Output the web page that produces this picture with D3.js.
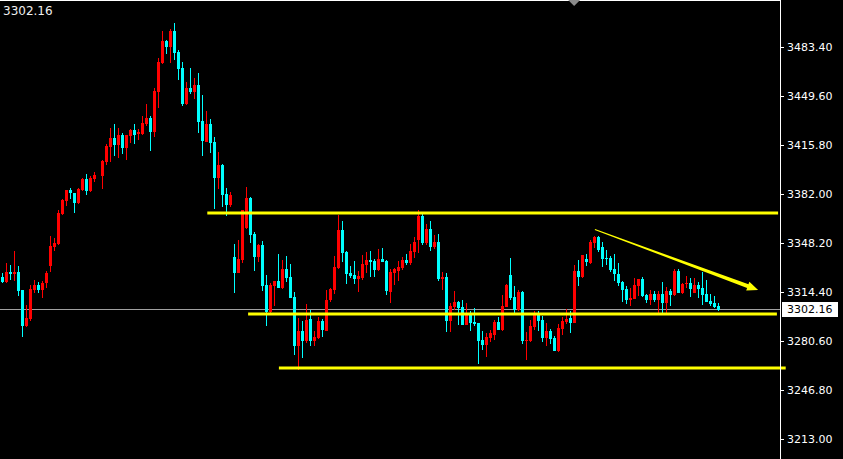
<!DOCTYPE html>
<html><head><meta charset="utf-8">
<script src="https://cdn.jsdelivr.net/npm/d3@7"></script>
<style>
html,body{margin:0;padding:0;background:#000;overflow:hidden;}
svg{display:block;}
</style></head>
<body>
<svg id="chart" width="843" height="459"></svg>
<script>
// ---- data (bar index 0..179, bar 24 missing) ----
const opens = [3324.9,3321.3,3328.2,3326.8,3328.2,3315.8,3291.1,3295.7,3315.8,3319.2,
3315.8,3320.4,3332.5,3345.4,3347.5,3368.0,3377.4,3384.8,3382.7,3376.0,
3384.8,3392.3,3384.3,3392.3,null,3394.6,3404.3,3414.6,3420.8,3415.8,
3422.7,3413.9,3422.2,3426.2,3423.2,3423.4,3430.3,3434.4,3424.8,3452.6,
3472.2,3487.6,3483.4,3494.5,3480.0,3468.9,3443.9,3455.1,3452.4,3457.4,
3432.4,3418.1,3430.3,3417.9,3393.0,3402.2,3382.0,3374.4,3338.7,3327.3,
3336.5,3358.3,3379.0,3354.4,3338.7,3346.8,3319.2,3300.8,3318.5,3322.0,
3317.3,3330.2,3324.7,3310.9,3277.3,3287.5,3280.6,3295.7,3280.6,3282.8,
3294.4,3287.5,3308.9,3315.8,3330.7,3357.2,3342.0,3327.5,3326.1,3323.3,
3324.0,3333.0,3336.5,3336.0,3329.6,3337.1,3336.0,3314.6,3327.3,3328.9,
3331.1,3336.5,3334.4,3342.2,3350.3,3366.8,3348.4,3357.8,3345.6,3349.1,
3323.3,3324.9,3294.4,3304.2,3307.5,3304.2,3291.6,3300.1,3293.9,3293.0,
3281.3,3278.0,3282.6,3284.7,3293.7,3288.2,3304.2,3326.1,3310.9,3302.0,
3314.4,3280.4,3280.6,3290.4,3298.5,3295.1,3282.8,3287.5,3282.6,3273.9,
3288.8,3293.7,3296.4,3293.0,3328.9,3324.7,3337.1,3334.4,3348.2,3352.3,
3345.2,3337.6,3337.6,3330.2,3326.6,3321.3,3316.4,3308.9,3309.5,3318.5,
3323.1,3312.3,3308.6,3313.0,3308.9,3313.0,3307.0,3315.1,3312.3,3328.9,
3313.9,3319.9,3320.8,3313.5,3319.2,3317.1,3313.0,3308.2,3306.8,3304.7];
const highs = [3327.3,3334.2,3332.8,3342.7,3332.3,3315.8,3305.2,3319.0,3322.7,3321.3,
3322.2,3328.9,3353.0,3351.6,3371.0,3378.8,3384.8,3385.9,3382.7,3386.1,
3393.0,3395.8,3394.4,3397.0,null,3405.5,3416.5,3427.5,3430.1,3427.5,
3423.9,3422.7,3427.1,3430.3,3426.8,3435.6,3444.1,3435.8,3455.1,3476.0,
3494.7,3488.5,3495.8,3500.0,3481.4,3473.1,3459.3,3468.9,3462.0,3465.5,
3450.3,3439.3,3433.7,3421.3,3411.0,3402.9,3386.1,3383.4,3347.5,3350.3,
3371.0,3386.6,3380.1,3356.0,3347.5,3349.6,3326.1,3320.4,3322.0,3340.6,
3336.5,3339.2,3333.7,3314.4,3296.4,3294.4,3306.1,3302.0,3287.5,3297.1,
3295.7,3315.8,3317.1,3339.2,3367.5,3363.4,3342.7,3332.3,3335.8,3328.9,
3339.9,3342.2,3342.7,3337.1,3343.8,3344.7,3336.5,3330.0,3331.1,3336.0,
3338.7,3340.4,3347.5,3352.5,3371.0,3368.7,3361.3,3363.4,3353.7,3354.4,
3328.4,3327.3,3306.6,3315.1,3308.2,3308.9,3306.6,3301.3,3303.3,3293.0,
3287.5,3285.9,3288.2,3295.1,3297.1,3312.3,3319.7,3337.8,3318.5,3315.8,
3315.1,3287.0,3295.1,3301.3,3301.3,3297.8,3293.0,3288.8,3284.0,3292.3,
3297.1,3302.6,3301.3,3333.0,3336.5,3339.9,3340.6,3350.3,3353.0,3353.0,
3348.7,3343.4,3339.2,3340.6,3334.2,3322.2,3318.5,3316.9,3323.8,3323.1,
3324.9,3313.0,3315.8,3315.1,3315.1,3321.3,3318.0,3316.2,3330.2,3330.2,
3320.8,3325.4,3324.2,3324.2,3321.1,3328.4,3322.7,3313.0,3311.6,3306.6];
const lows = [3320.8,3320.8,3322.7,3322.2,3311.6,3283.5,3290.4,3294.4,3313.9,3313.9,
3310.4,3317.3,3328.4,3342.9,3346.8,3367.3,3373.9,3378.3,3369.1,3375.3,
3384.3,3381.5,3383.6,3390.5,null,3385.4,3402.0,3404.3,3408.2,3407.0,
3409.6,3405.7,3417.4,3416.7,3419.3,3422.7,3429.1,3411.9,3421.5,3441.3,
3471.5,3478.6,3472.6,3474.5,3460.9,3442.7,3443.4,3451.0,3447.8,3424.1,
3408.4,3417.7,3410.5,3371.6,3385.7,3373.0,3366.8,3373.0,3313.9,3327.3,
3334.2,3357.6,3348.4,3329.1,3335.3,3315.3,3291.1,3300.1,3304.7,3317.3,
3316.7,3321.3,3310.4,3270.9,3260.6,3269.0,3279.4,3277.3,3277.3,3281.9,
3283.3,3287.5,3307.5,3313.0,3330.0,3335.1,3319.9,3324.0,3319.9,3314.4,
3322.7,3327.3,3324.9,3324.9,3328.9,3335.1,3312.3,3306.6,3319.2,3322.2,
3329.6,3333.0,3333.0,3338.0,3341.1,3346.8,3346.8,3342.9,3344.0,3322.2,
3315.8,3287.0,3287.0,3302.0,3291.6,3291.6,3291.6,3287.7,3290.9,3264.9,
3274.6,3269.7,3279.9,3281.3,3288.2,3287.5,3304.2,3308.9,3298.5,3301.3,
3278.7,3267.5,3279.9,3288.2,3287.5,3280.1,3277.3,3278.7,3273.9,3273.2,
3284.7,3292.3,3286.3,3293.0,3318.7,3324.0,3332.3,3333.7,3344.7,3342.0,
3331.4,3333.0,3328.0,3322.2,3318.7,3307.7,3306.1,3304.7,3309.5,3311.6,
3310.7,3307.0,3305.4,3307.7,3300.1,3300.1,3300.1,3304.7,3311.6,3313.9,
3313.0,3316.9,3310.7,3313.5,3310.0,3305.4,3307.7,3304.7,3303.1,3301.5];
const closes = [3321.3,3328.2,3327.0,3328.2,3315.3,3291.1,3296.4,3316.4,3319.2,3315.8,
3320.6,3327.5,3346.1,3348.2,3369.1,3377.9,3384.8,3382.5,3376.0,3385.2,
3392.3,3384.3,3393.0,3395.1,null,3404.8,3415.3,3420.8,3415.8,3422.7,
3413.9,3422.7,3426.2,3422.7,3424.6,3431.0,3434.4,3424.8,3453.1,3473.1,
3487.6,3483.4,3494.5,3479.5,3468.2,3443.9,3455.1,3452.4,3457.4,3431.7,
3418.6,3430.3,3417.2,3393.0,3402.2,3381.3,3374.4,3381.3,3327.7,3337.1,
3371.0,3379.0,3353.7,3338.7,3346.8,3318.5,3300.8,3319.2,3322.0,3317.3,
3330.2,3324.2,3310.4,3277.3,3287.5,3280.6,3295.1,3280.6,3283.3,3294.4,
3288.2,3308.9,3316.4,3331.6,3357.2,3341.3,3326.8,3325.4,3323.3,3325.4,
3333.7,3336.7,3334.9,3329.6,3337.1,3335.1,3315.1,3328.0,3330.0,3331.6,
3336.5,3334.4,3342.7,3349.1,3366.8,3348.4,3357.8,3345.4,3349.1,3323.3,
3324.9,3294.4,3304.9,3307.5,3303.1,3291.6,3300.1,3293.2,3292.3,3280.8,
3278.0,3283.3,3286.1,3293.7,3288.2,3304.7,3319.2,3310.4,3302.0,3314.4,
3280.8,3281.3,3290.9,3298.5,3294.4,3282.8,3287.5,3281.9,3273.9,3289.5,
3294.4,3295.7,3293.0,3328.9,3324.7,3339.9,3335.1,3348.9,3352.3,3343.4,
3337.1,3337.1,3329.6,3326.6,3320.4,3315.8,3308.9,3310.0,3319.2,3323.1,
3311.6,3308.6,3313.0,3308.9,3313.0,3307.0,3315.1,3312.3,3328.9,3313.9,
3319.9,3320.4,3316.7,3319.2,3316.7,3312.3,3307.7,3306.1,3304.2,3302.16];

const yTicks = [3213.00, 3246.80, 3280.60, 3314.40, 3348.20, 3382.00, 3415.80, 3449.60, 3483.40];
const lastPrice = 3302.16;
const levelPrices = [3368.9, 3299.2, 3262.0];
const levelFrom = [51.2, 61.4, 69.1];
const levelTo = [193.9, 193.6, 195.8];
const trendStart = [148.1, 3357.5];
const trendEnd = [188.9, 3315.8];
const shiftMarkerIndex = 142.9;

// ---- layout ----
const W = 843, H = 459, plotRight = 780;
const svg = d3.select('#chart');
svg.append('rect').attr('width', W).attr('height', H).attr('fill', '#000');

const x = d3.scaleLinear().domain([0, 194.375]).range([2.5, plotRight]);
const y = d3.scaleLinear().domain([3213, 3483.4]).range([439, 47]);

const bars = d3.range(opens.length)
  .filter(i => opens[i] !== null)
  .map(i => ({i, o: opens[i], h: highs[i], l: lows[i], c: closes[i]}));

const plot = svg.append('g').attr('shape-rendering', 'crispEdges');

// last price line
plot.append('line')
  .attr('x1', 0).attr('x2', plotRight)
  .attr('y1', Math.floor(y(lastPrice)) + 0.5).attr('y2', Math.floor(y(lastPrice)) + 0.5)
  .attr('stroke', '#a0a0a0').attr('stroke-width', 1);

const col = d => d.c > d.o ? '#ff0000' : '#00ffff';

// wicks
plot.selectAll('rect.wick').data(bars).join('rect')
  .attr('class', 'wick')
  .attr('x', d => x(d.i) - 0.5)
  .attr('width', 1)
  .attr('y', d => Math.round(y(d.h)))
  .attr('height', d => Math.max(1, Math.round(y(d.l)) - Math.round(y(d.h))))
  .attr('fill', col);

// bodies
plot.selectAll('rect.body').data(bars).join('rect')
  .attr('class', 'body')
  .attr('x', d => x(d.i) - 1.5)
  .attr('width', 3)
  .attr('y', d => Math.round(y(Math.max(d.o, d.c))))
  .attr('height', d => Math.max(1, Math.round(y(Math.min(d.o, d.c))) - Math.round(y(Math.max(d.o, d.c)))))
  .attr('fill', col);

// horizontal levels
const lv = svg.append('g');
levelPrices.forEach((p, k) => {
  lv.append('line')
    .attr('x1', x(levelFrom[k])).attr('x2', x(levelTo[k]))
    .attr('y1', Math.round(y(p))).attr('y2', Math.round(y(p)))
    .attr('stroke', '#ffff00').attr('stroke-width', 3);
});

// trend arrow (tapered)
(function () {
  const x0 = x(trendStart[0]), y0 = y(trendStart[1]);
  const x1 = x(trendEnd[0]), y1 = y(trendEnd[1]);
  const dx = x1 - x0, dy = y1 - y0, L = Math.hypot(dx, dy);
  const ux = dx / L, uy = dy / L, nx = -uy, ny = ux;
  const headLen = 11, headW = 4.6, w0 = 0.5, w1 = 1.9;
  const bx = x1 - ux * headLen, by = y1 - uy * headLen;
  const pts = [
    [x0 + nx * w0, y0 + ny * w0],
    [bx + nx * w1, by + ny * w1],
    [bx + nx * headW, by + ny * headW],
    [x1, y1],
    [bx - nx * headW, by - ny * headW],
    [bx - nx * w1, by - ny * w1],
    [x0 - nx * w0, y0 - ny * w0]
  ];
  svg.append('polygon').attr('points', pts.map(p => p.join(',')).join(' '))
    .attr('fill', '#ffff00');
})();

// borders
const fr = svg.append('g').attr('shape-rendering', 'crispEdges');
fr.append('line').attr('x1', plotRight + 0.5).attr('x2', plotRight + 0.5)
  .attr('y1', 0).attr('y2', H).attr('stroke', '#fff');
fr.append('line').attr('x1', 0).attr('x2', plotRight)
  .attr('y1', 0.5).attr('y2', 0.5).attr('stroke', '#fff');

// shift marker
const sx = x(shiftMarkerIndex);
svg.append('polygon')
  .attr('points', `${sx - 6},0 ${sx + 6},0 ${sx},6`)
  .attr('fill', '#8a8a8a');

// right axis
const axis = d3.axisRight(y).tickValues(yTicks).tickSize(4).tickPadding(3)
  .tickFormat(d3.format('.2f'));
const ag = svg.append('g').attr('transform', `translate(${plotRight},0)`).call(axis);
ag.select('.domain').remove();
ag.selectAll('line').attr('stroke', '#fff').attr('shape-rendering', 'crispEdges');
ag.selectAll('text').attr('fill', '#fff')
  .style('font-family', 'DejaVu Sans').style('font-size', '11px');

// last price label
const ly = y(lastPrice);
svg.append('rect').attr('x', 782).attr('y', Math.round(ly) - 8).attr('width', 56).attr('height', 15)
  .attr('fill', '#fff').attr('shape-rendering', 'crispEdges');
svg.append('text').attr('x', 787).attr('y', ly).attr('dy', '0.32em')
  .attr('fill', '#000').style('font-family', 'DejaVu Sans').style('font-size', '11px')
  .text(d3.format('.2f')(lastPrice));

// top-left price text
svg.append('text').attr('x', 3).attr('y', 15)
  .attr('fill', '#f0f0f0').style('font-family', 'DejaVu Sans').style('font-size', '12px')
  .text(d3.format('.2f')(lastPrice));
</script>
</body></html>
